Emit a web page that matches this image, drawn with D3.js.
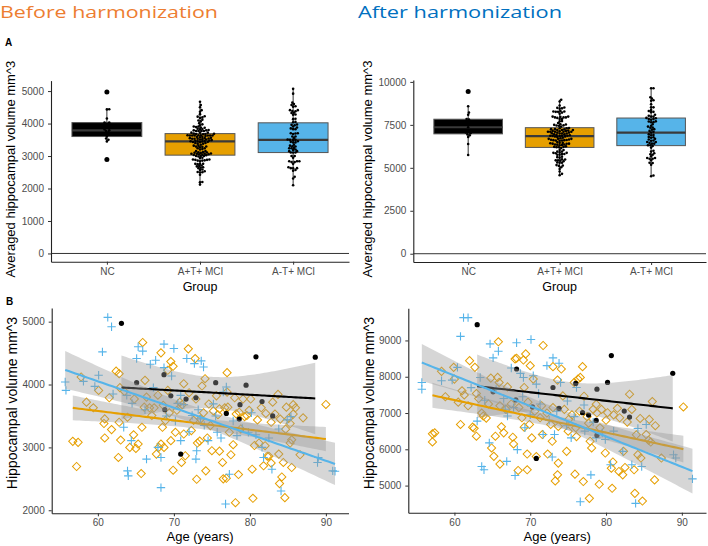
<!DOCTYPE html>
<html>
<head>
<meta charset="utf-8">
<script src="https://cdn.jsdelivr.net/npm/d3@7/dist/d3.min.js"></script>
<style>
  body { margin: 0; background: #fff; }
  svg { display: block; font-family: "Liberation Sans", Arial, sans-serif; }
</style>
</head>
<body>
<svg id="chart" width="708" height="546"></svg>
<script>
// groups and colours
const groups = ["NC", "A+T+ MCI", "A-T+ MCI"];
const groupColors = ["#000000", "#E69F00", "#56B4E9"];

// [age, hippocampal volume] - before harmonization
const ncBefore = [[63.1,4973],[65.1,4030],[68.7,4157],[68.8,3600],[69.6,3820],[70.9,2893],[71.6,3768],[72.9,3790],[75.5,4030],[76.9,3540],[78.6,3450],[78.7,3680],[79.5,3990],[80.8,4440],[81.6,3730],[83.0,3500],[88.6,4435]];
const posBefore = [[56.7,3096],[57.4,3080],[57.2,2696],[57.8,4120],[60.1,3907],[60.9,3453],[60.9,3150],[60.8,3380],[61.8,3283],[62.4,4213],[62.8,4173],[62.9,3950],[62.8,3400],[62.7,2840],[63.0,3117],[63.9,3480],[64.2,3000],[64.7,3200],[65.0,2984],[65.3,3053],[65.7,2584],[65.8,3320],[65.9,4669],[66.1,3640],[66.2,4067],[66.4,3800],[67.1,3507],[67.4,3630],[67.7,2893],[68.0,3000],[68.3,3053],[68.7,3000],[68.3,4504],[68.5,3320],[68.9,3427],[69.2,3907],[69.2,4227],[69.6,4365],[69.9,4290],[69.6,3107],[69.9,2637],[70.2,3240],[70.8,3720],[71.0,2760],[71.3,4013],[71.3,3213],[71.5,2867],[71.9,4568],[72.3,3267],[72.6,3430],[72.8,4413],[73.0,2493],[73.1,3070],[73.4,3100],[73.7,3976],[73.9,3550],[74.1,4093],[74.2,2627],[74.4,3150],[74.8,3347],[75.2,3580],[75.0,2947],[75.6,3820],[76.0,3613],[76.0,2940],[76.5,2500],[76.4,2760],[76.9,2509],[77.0,4189],[77.0,3880],[77.1,3640],[77.3,3240],[77.5,2883],[77.8,3043],[78.1,2120],[78.2,3533],[78.5,2568],[78.6,3560],[78.8,3293],[79.1,3770],[79.6,3507],[79.9,3590],[80.3,2653],[80.4,2190],[80.6,3030],[81.0,3437],[81.2,3070],[81.8,2707],[82.0,3027],[82.3,2860],[82.5,2860],[82.8,2750],[82.8,3400],[83.3,3530],[83.7,3843],[83.8,2893],[83.9,2424],[84.2,2530],[84.4,2760],[84.6,2200],[84.7,3290],[84.8,3640],[85.1,3460],[85.3,3380],[85.5,2680],[85.7,3680],[85.7,3530],[86.6,2883],[85.3,3070],[85.5,3120],[90.0,3683],
  [58.5,3720],[59.4,3630],[61.5,3790],[63.5,3890],[64.8,3770],[66.8,3630],[67.9,3830],[68.6,3670],[69.4,3550],[70.4,3590],[71.1,3680],[72.0,3870],[72.9,3770],[73.5,3450],[74.6,3690],[75.8,3520],[76.7,3630],[78.0,3790],[79.3,3490],[80.1,3770],[81.5,3630],[82.1,3540],[83.0,3720],[84.0,3450],[86.0,3630],[87.0,3470]];
const negBefore = [[55.7,4040],[55.8,3907],[58.1,4051],[59.6,3971],[60.1,4147],[60.6,4520],[61.3,5069],[61.8,4920],[63.4,3320],[63.8,3827],[63.9,2627],[64.0,2547],[64.4,3107],[65.1,4413],[65.3,4600],[65.9,4531],[66.4,2813],[66.9,4323],[67.6,4387],[67.9,3000],[68.3,2840],[68.3,2360],[68.7,4643],[68.7,4269],[69.7,4136],[70.0,4573],[70.5,3700],[70.9,3827],[70.9,3107],[71.7,4413],[72.4,3507],[72.7,4333],[72.9,2813],[73.0,2947],[73.5,3453],[73.6,4376],[73.9,4280],[74.5,3107],[75.2,3693],[75.7,3240],[76.5,3880],[76.9,3960],[76.8,2100],[77.3,2573],[78.3,3187],[79.8,3240],[80.8,3200],[81.6,3000],[81.8,2840],[82.9,2653],[83.8,3293],[84.1,2307],[84.9,3437],[85.4,3490],[89.0,2840],[88.9,2760],[90.9,2627],[91.2,2620],
  [62.0,3850],[64.5,3700],[66.2,3600],[67.3,3950],[69.0,3500],[70.2,3420],[71.3,3680],[72.0,3250],[73.2,3600],[74.0,3350],[75.5,3500],[76.2,3150],[77.8,3420],[79.0,3300],[80.2,3550],[82.5,3150]];

// [age, hippocampal volume] - after harmonization
const ncAfter = [[63.0,9435],[65.1,7583],[68.2,8213],[68.1,7360],[70.3,7167],[70.8,5750],[73.0,7704],[73.8,7130],[76.0,7815],[76.9,7009],[77.7,6944],[78.7,6796],[78.8,7657],[78.8,6389],[80.2,7843],[80.7,8583],[82.4,7055],[83.1,6889],[88.8,8093]];
const posAfter = [[57.1,6426],[57.4,6454],[57.1,6204],[58.3,8148],[59.9,8259],[60.0,7935],[60.8,6685],[61.0,7611],[61.3,7500],[62.0,8444],[62.4,6611],[62.6,6580],[62.9,6361],[62.7,8259],[62.9,7537],[63.6,7000],[63.8,6917],[64.2,6860],[64.8,7963],[64.9,6037],[65.2,5806],[65.4,6361],[65.7,7981],[65.8,8963],[65.9,7843],[66.0,5593],[66.2,6620],[66.5,6454],[67.0,7720],[67.7,6333],[67.8,6148],[68.0,8491],[68.2,8509],[68.4,5417],[68.9,6870],[69.1,8460],[69.2,7704],[69.2,6611],[69.4,8630],[69.6,5435],[69.6,5870],[69.9,6685],[70.0,8306],[70.4,7935],[70.2,6315],[70.8,5800],[71.3,6870],[71.6,6407],[71.7,8861],[72.3,5870],[72.7,6685],[73.0,8278],[72.9,6222],[73.3,5130],[73.6,5296],[73.7,5620],[73.6,7907],[73.7,6630],[74.1,8213],[74.3,7472],[74.8,5944],[75.0,6500],[75.1,6830],[75.8,7843],[75.9,5315],[76.0,6593],[76.1,6350],[76.3,7935],[76.6,7981],[76.9,8278],[77.0,5111],[77.1,7463],[77.7,6720],[77.8,4648],[77.9,6222],[78.1,6037],[78.3,7102],[78.7,7240],[79.1,5037],[79.2,6593],[79.4,7100],[79.9,5898],[80.2,7009],[80.7,5481],[80.8,4926],[80.9,5650],[81.5,7130],[81.7,5389],[81.8,6870],[82.2,5296],[82.3,5944],[82.5,5500],[83.1,7518],[83.4,7100],[83.7,5435],[83.8,4787],[84.0,6400],[84.2,5852],[84.6,5759],[84.8,4574],[85.3,6407],[85.6,6250],[85.7,6824],[85.9,6200],[86.1,7315],[86.4,5157],[87.3,5759],[90.2,7167],
  [58.8,7450],[60.5,7300],[61.8,7200],[63.2,7400],[64.5,7250],[66.0,7200],[66.8,7100],[67.5,7250],[68.5,7150],[69.7,7300],[70.6,7050],[71.5,7200],[72.2,7000],[73.0,7150],[74.5,7100],[75.5,6950],[76.5,7050],[77.5,6900],[78.8,7000],[80.0,6800],[81.0,6950],[82.8,6750],[84.5,6850],[86.5,6650]];
const negAfter = [[55.7,7843],[55.7,7657],[58.3,7889],[59.7,7907],[60.4,8259],[60.8,9111],[61.2,9630],[61.8,9630],[63.4,7981],[63.0,6778],[63.6,5528],[63.9,5435],[64.7,8907],[65.1,8519],[65.8,8704],[64.6,6176],[66.7,7102],[67.0,6916],[66.9,5667],[67.5,8241],[68.0,5278],[68.2,8935],[68.3,5991],[68.7,8093],[69.1,7981],[69.3,6593],[70.1,9028],[70.4,8028],[70.8,7796],[71.1,7537],[71.7,6407],[72.2,8306],[73.0,8519],[72.9,5787],[73.2,6407],[73.8,8370],[74.0,7843],[74.9,7333],[75.4,6315],[76.1,7704],[76.6,4556],[77.1,7222],[78.0,5296],[78.7,6315],[79.9,6269],[80.6,5574],[82.2,5944],[83.4,5574],[83.9,4509],[84.2,6574],[84.7,5528],[85.3,6685],[88.9,5852],[89.2,5759],[91.4,5185],
  [62.2,7700],[64.0,7350],[65.5,7650],[66.5,7400],[67.8,7150],[69.0,7450],[70.0,6950],[71.3,7250],[72.5,6800],[73.5,7050],[74.8,6650],[75.8,6900],[77.2,6500],[78.3,6750],[79.5,6450],[81.0,6500]];

// tick labels
const boxTicksBefore = [0, 1000, 2000, 3000, 4000, 5000];
const boxTicksAfter = [0, 2500, 5000, 7500, 10000];
const scatTicksBefore = [2000, 3000, 4000, 5000];
const scatTicksAfter = [5000, 6000, 7000, 8000, 9000];
const ageTicks = [60, 70, 80, 90];

const svg = d3.select("#chart");
const TICK_FILL = "#4d4d4d";

// titles
svg.append("text").attr("x", 0).attr("y", 18)
  .attr("font-family", "'Open Sans', sans-serif").attr("font-size", 17)
  .attr("textLength", 218).attr("lengthAdjust", "spacingAndGlyphs")
  .attr("fill", "#ED7D31").text("Before harmonization");
svg.append("text").attr("x", 358).attr("y", 18)
  .attr("font-family", "'Open Sans', sans-serif").attr("font-size", 17)
  .attr("textLength", 204).attr("lengthAdjust", "spacingAndGlyphs")
  .attr("fill", "#0070C0").text("After harmonization");
svg.append("text").attr("x", 5).attr("y", 46).attr("font-size", 10).attr("font-weight", "bold").text("A");
svg.append("text").attr("x", 6).attr("y", 305).attr("font-size", 10).attr("font-weight", "bold").text("B");

function styleAxis(g) {
  g.selectAll(".domain").attr("stroke", "#222").attr("stroke-width", 1.1);
  g.selectAll(".tick line").attr("stroke", "#333");
  g.selectAll(".tick text").attr("fill", TICK_FILL).attr("font-size", 10)
    .attr("font-family", "'Liberation Sans', Arial, sans-serif");
}

function yTitle(x, y, size, txt) {
  svg.append("text").attr("transform", `translate(${x},${y}) rotate(-90)`)
    .attr("text-anchor", "middle").attr("font-size", size).attr("fill", "#000").text(txt);
}

// simple beeswarm: push each dot sideways until it no longer hits the ones already placed
function swarm(vals, cx, y, r) {
  const placed = [];
  vals.slice().sort(d3.ascending).forEach(v => {
    const py = y(v);
    let k = 0, px;
    while (true) {
      px = cx + Math.ceil(k / 2) * (k % 2 ? 1 : -1) * r * 0.6;
      if (!placed.some(p => (p[0] - px) ** 2 + (p[1] - py) ** 2 < (1.6 * r) ** 2)) break;
      k++;
    }
    placed.push([px, py]);
  });
  return placed;
}

function boxPanel(box, sets, ticks, titleX) {
  const vals = sets.map(s => s.map(d => d[1]));
  const all = vals.flat();
  const hi = Math.max(0, d3.max(all)), lo = Math.min(0, d3.min(all));
  const pad = (hi - lo) * 0.05;
  const y = d3.scaleLinear().domain([lo - pad, hi + pad]).range([box.y1, box.y0]);
  const x = d3.scalePoint().domain(groups).range([box.x0, box.x1]).padding(0.6);
  const bw = x.step() * 0.75;

  // reference line at zero
  svg.append("line").attr("x1", box.x0).attr("x2", box.x1)
    .attr("y1", y(0)).attr("y2", y(0)).attr("stroke", "#333").attr("stroke-width", 1);

  const g = svg.append("g");
  groups.forEach((name, i) => {
    const v = vals[i].slice().sort(d3.ascending);
    const q1 = d3.quantile(v, 0.25), med = d3.quantile(v, 0.5), q3 = d3.quantile(v, 0.75);
    const iqr = q3 - q1;
    const wLo = d3.min(v.filter(d => d >= q1 - 1.5 * iqr));
    const wHi = d3.max(v.filter(d => d <= q3 + 1.5 * iqr));
    const cx = x(name);
    g.append("line").attr("x1", cx).attr("x2", cx).attr("y1", y(wHi)).attr("y2", y(q3)).attr("stroke", "#333");
    g.append("line").attr("x1", cx).attr("x2", cx).attr("y1", y(q1)).attr("y2", y(wLo)).attr("stroke", "#333");
    g.append("rect").attr("x", cx - bw / 2).attr("width", bw)
      .attr("y", y(q3)).attr("height", y(q1) - y(q3))
      .attr("fill", groupColors[i]).attr("stroke", "#555").attr("stroke-width", 1);
    g.append("line").attr("x1", cx - bw / 2).attr("x2", cx + bw / 2)
      .attr("y1", y(med)).attr("y2", y(med)).attr("stroke", "#3a3a3a").attr("stroke-width", 2.2);
    v.filter(d => d < wLo || d > wHi).forEach(d => {
      g.append("circle").attr("cx", cx).attr("cy", y(d)).attr("r", 2.5).attr("fill", "#000");
    });
    swarm(v, cx, y, 1.3).forEach(p => {
      g.append("circle").attr("cx", p[0]).attr("cy", p[1]).attr("r", 1.3).attr("fill", "#000");
    });
  });

  const ax = svg.append("g").attr("transform", `translate(${box.x0},0)`)
    .call(d3.axisLeft(y).tickValues(ticks).tickSize(3).tickSizeOuter(0).tickPadding(4).tickFormat(d3.format("d")));
  styleAxis(ax);
  const bx = svg.append("g").attr("transform", `translate(0,${box.y1})`)
    .call(d3.axisBottom(x).tickSize(3).tickSizeOuter(0).tickPadding(3));
  styleAxis(bx);

  yTitle(titleX, (box.y0 + box.y1) / 2 - 2, 13, "Averaged hippocampal volume mm^3");
  svg.append("text").attr("x", (box.x0 + box.x1) / 2).attr("y", 291)
    .attr("text-anchor", "middle").attr("font-size", 12.5).text("Group");
}

function tQuant(df) {
  const z = 1.959964;
  return z + (z ** 3 + z) / (4 * df) + (5 * z ** 5 + 16 * z ** 3 + 3 * z) / (96 * df * df)
    + (3 * z ** 7 + 19 * z ** 5 + 17 * z ** 3 - 15 * z) / (384 * df ** 3);
}

// straight-line fit with 95% confidence band, like geom_smooth(method = "lm")
function lmFit(pts) {
  const n = pts.length;
  const mx = d3.mean(pts, d => d[0]), my = d3.mean(pts, d => d[1]);
  const sxx = d3.sum(pts, d => (d[0] - mx) ** 2);
  const sxy = d3.sum(pts, d => (d[0] - mx) * (d[1] - my));
  const b = sxy / sxx, a = my - b * mx;
  const s = Math.sqrt(d3.sum(pts, d => (d[1] - a - b * d[0]) ** 2) / (n - 2));
  const t = tQuant(n - 2);
  const [xmin, xmax] = d3.extent(pts, d => d[0]);
  return d3.range(81).map(i => {
    const xv = xmin + (xmax - xmin) * i / 80;
    const f = a + b * xv;
    const se = s * Math.sqrt(1 / n + (xv - mx) ** 2 / sxx);
    return { x: xv, y: f, lo: f - t * se, hi: f + t * se };
  });
}

function scatterPanel(box, sets, ticks, titleX, titleY) {
  const fits = sets.map(lmFit);
  const all = sets.flat();
  const yExt = d3.extent(all.map(d => d[1]).concat(fits.flat().flatMap(f => [f.lo, f.hi])));
  const xExt = d3.extent(all, d => d[0]);
  const xp = (xExt[1] - xExt[0]) * 0.05, yp = (yExt[1] - yExt[0]) * 0.05;
  const x = d3.scaleLinear().domain([xExt[0] - xp, xExt[1] + xp]).range([box.x0, box.x1]);
  const y = d3.scaleLinear().domain([yExt[0] - yp, yExt[1] + yp]).range([box.y1, box.y0]);

  const g = svg.append("g");
  // diamonds (A+T+), crosses (A-T+), dots (NC)
  g.selectAll(".dia").data(sets[1]).join("rect")
    .attr("x", -2.9).attr("y", -2.9).attr("width", 5.8).attr("height", 5.8)
    .attr("transform", d => `translate(${x(d[0])},${y(d[1])}) rotate(45)`)
    .attr("fill", "none").attr("stroke", groupColors[1]).attr("stroke-width", 1);
  g.selectAll(".plus").data(sets[2]).join("path")
    .attr("d", "M-4.2,0H4.2M0,-4.2V4.2")
    .attr("transform", d => `translate(${x(d[0])},${y(d[1])})`)
    .attr("stroke", groupColors[2]).attr("stroke-width", 1.1);
  g.selectAll(".dot").data(sets[0]).join("circle")
    .attr("cx", d => x(d[0])).attr("cy", d => y(d[1])).attr("r", 2.6).attr("fill", "#000");

  const area = d3.area().x(d => x(d.x)).y0(d => y(d.lo)).y1(d => y(d.hi));
  const line = d3.line().x(d => x(d.x)).y(d => y(d.y));
  fits.forEach((f, i) => {
    g.append("path").attr("d", area(f)).attr("fill", "#999999").attr("fill-opacity", 0.4);
    g.append("path").attr("d", line(f)).attr("fill", "none")
      .attr("stroke", groupColors[i]).attr("stroke-width", 2.1);
  });

  const ax = svg.append("g").attr("transform", `translate(${box.x0},0)`)
    .call(d3.axisLeft(y).tickValues(ticks).tickSize(3).tickSizeOuter(0).tickPadding(4).tickFormat(d3.format("d")));
  styleAxis(ax);
  const bx = svg.append("g").attr("transform", `translate(0,${box.y1})`)
    .call(d3.axisBottom(x).tickValues(ageTicks).tickSize(3).tickSizeOuter(0).tickPadding(3));
  styleAxis(bx);

  yTitle(titleX, titleY, 14, "Hippocampal volume mm^3");
  svg.append("text").attr("x", (box.x0 + box.x1) / 2).attr("y", 541)
    .attr("text-anchor", "middle").attr("font-size", 13).text("Age (years)");
}

boxPanel({ x0: 51, x1: 349, y0: 80.6, y1: 261.7 }, [ncBefore, posBefore, negBefore], boxTicksBefore, 15);
boxPanel({ x0: 413.3, x1: 706, y0: 80, y1: 262 }, [ncAfter, posAfter, negAfter], boxTicksAfter, 372);
scatterPanel({ x0: 51.7, x1: 348.5, y0: 308, y1: 513.3 }, [ncBefore, posBefore, negBefore], scatTicksBefore, 17, 403);
scatterPanel({ x0: 408.3, x1: 706, y0: 308.3, y1: 512.7 }, [ncAfter, posAfter, negAfter], scatTicksAfter, 374, 403);
</script>
</body>
</html>
